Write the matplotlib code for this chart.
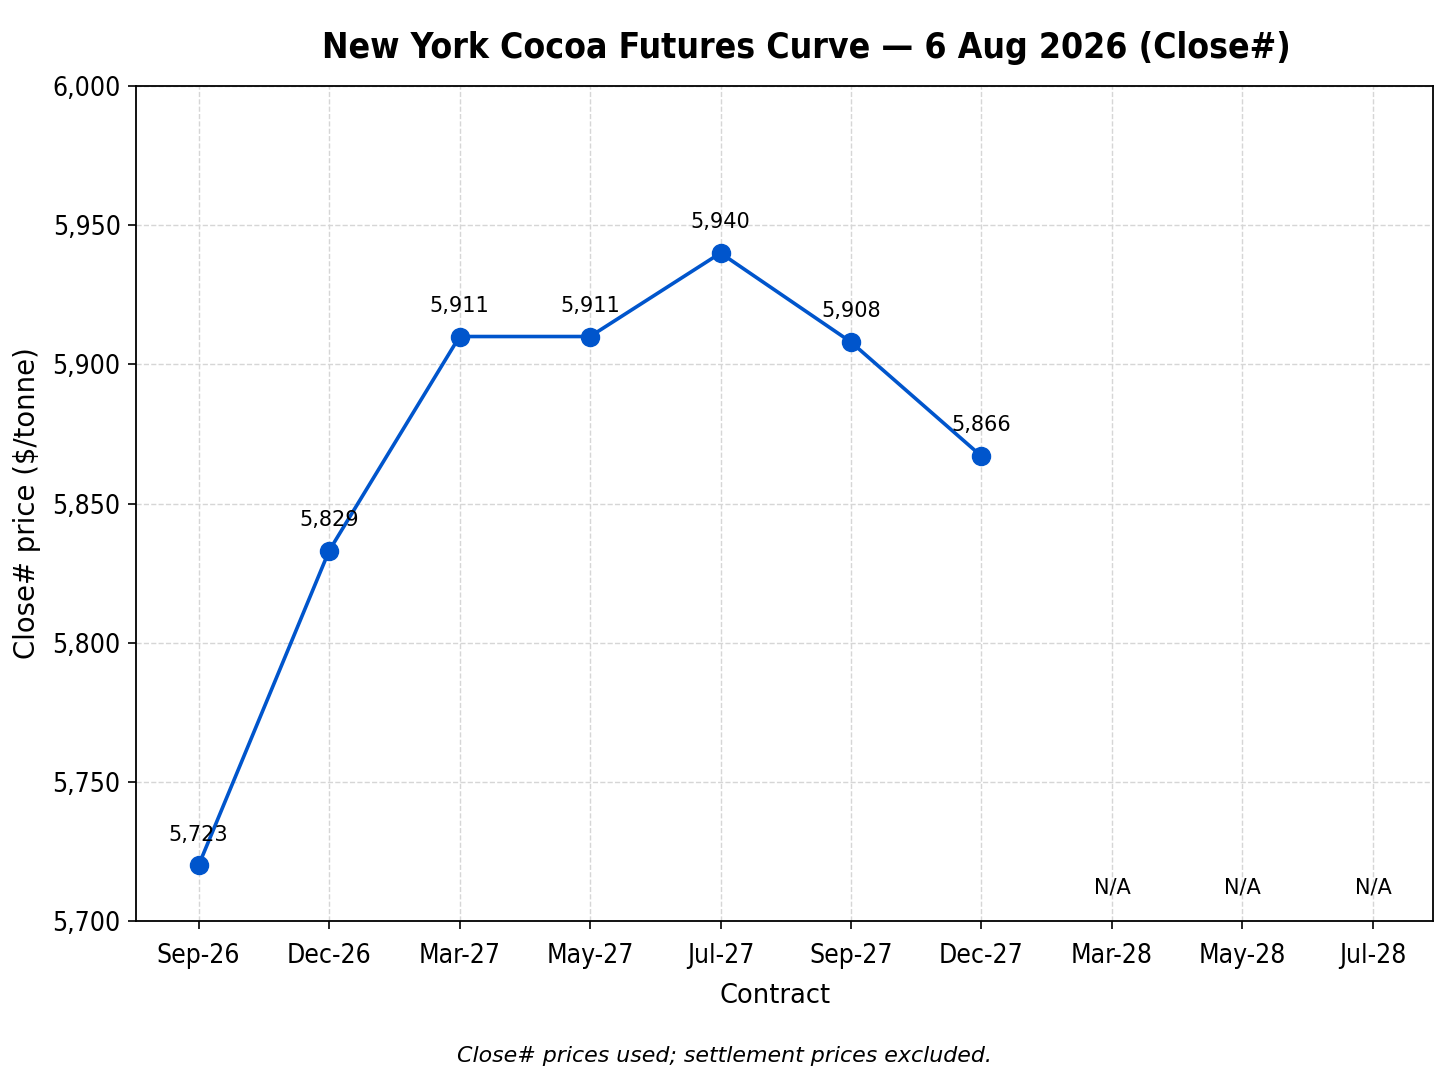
import matplotlib
matplotlib.use("Agg")
import matplotlib.pyplot as plt
from matplotlib.ticker import FuncFormatter, MultipleLocator

contracts = ["Sep-26", "Dec-26", "Mar-27", "May-27", "Jul-27", "Sep-27", "Dec-27",
             "Mar-28", "May-28", "Jul-28"]
point_values = [5720, 5833, 5910, 5910, 5940, 5908, 5867]
value_labels = ["5,723", "5,829", "5,911", "5,911", "5,940", "5,908", "5,866"]
na_contracts = ["Mar-28", "May-28", "Jul-28"]

title = "New York Cocoa Futures Curve \u2014 6 Aug 2026 (Close#)"
footnote = "Close# prices used; settlement prices excluded."

plt.rcParams['font.family'] = ['DejaVu Sans']

fig = plt.figure(figsize=(14.48, 10.86), dpi=100)
ax = fig.add_axes([0.0939, 0.1519, 0.8957, 0.7689])

xpos = list(range(len(contracts)))
avail_x = xpos[:len(point_values)]
ax.plot(avail_x, point_values, color="#0055cc", linewidth=2.6, marker="o",
        markersize=13, zorder=3)

for x, y, lab in zip(avail_x, point_values, value_labels):
    ax.annotate(lab, (x, y), xytext=(0, 15), textcoords="offset points",
                ha="center", va="bottom", fontsize=15)

for c in na_contracts:
    ax.text(contracts.index(c), 5712, "N/A", ha="center", va="center", fontsize=15)

ax.set_xlim(-0.48, 9.46)
ax.set_ylim(5700, 6000)
ax.set_xticks(xpos)
ax.set_xticklabels(contracts)
ax.yaxis.set_major_locator(MultipleLocator(50))
ax.yaxis.set_major_formatter(FuncFormatter(lambda v, p: f"{int(v):,}"))

for lab in ax.get_xticklabels() + ax.get_yticklabels():
    lab.set_fontsize(19)
    lab.set_fontstretch("condensed")

ax.tick_params(axis="x", length=6, width=1.2, pad=10)
ax.tick_params(axis="y", length=6, width=1.2, pad=5)
ax.grid(True, linestyle="--", color="#d6d6d6", linewidth=1.0)
ax.set_axisbelow(True)
for s in ax.spines.values():
    s.set_linewidth(1.3)

ax.set_xlabel("Contract", fontsize=18.5, labelpad=10)
ax.xaxis.set_label_coords(0.4927, -0.074)
ax.set_ylabel("Close# price ($/tonne)", fontsize=19.8, labelpad=8)
ax.set_title(title, fontsize=25.5, fontweight="bold", fontstretch="condensed",
             pad=20, x=0.5166)

fig.text(0.5, 0.028, footnote, ha="center", va="center", fontsize=15.9, style="italic")

fig.savefig("out.png", dpi=100)
